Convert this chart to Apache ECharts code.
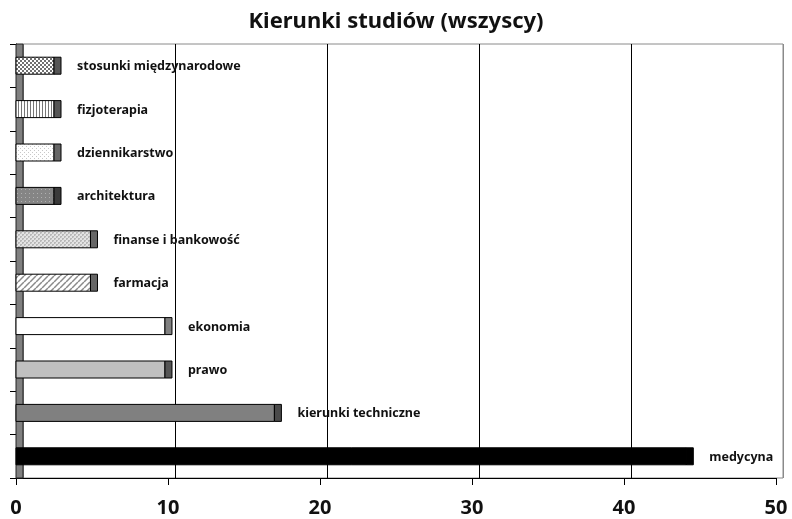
<!DOCTYPE html>
<html>
<head>
<meta charset="utf-8">
<title>Kierunki studiów (wszyscy)</title>
<script src="https://cdn.jsdelivr.net/npm/echarts@6/dist/echarts.min.js"></script>
<style>
body { margin: 0; background: #fff; }
#chart { width: 792px; height: 519px; }
</style>
</head>
<body>
<div id="chart"></div>
<script>
// data, bottom to top
var categories = ['medycyna', 'kierunki techniczne', 'prawo', 'ekonomia', 'farmacja',
	'finanse i bankowość', 'architektura', 'dziennikarstwo', 'fizjoterapia', 'stosunki międzynarodowe'];
var values = [44.1, 17.0, 9.8, 9.8, 4.9, 4.9, 2.5, 2.5, 2.5, 2.5];
var xMin = 0, xMax = 50, xStep = 10;

// looks, same order as categories
var fills = ['solid:#000000', 'solid:#808080', 'solid:#c0c0c0', 'solid:#ffffff', 'diag',
	'lightdots', 'graydots', 'sparsedots', 'vstripes', 'checker'];
var capColors = ['#000000', '#4a4a4a', '#555555', '#808080', '#666666',
	'#666666', '#3a3a3a', '#666666', '#555555', '#555555'];

var FONT = '"Noto Sans", "DejaVu Sans", sans-serif';
var DEPTH = 7;

function pattern(kind)
{
	if (kind.indexOf('solid:') == 0)
		return kind.substr(6);
	var c = document.createElement('canvas');
	var g = c.getContext('2d');
	if (kind == 'checker') {
		c.width = 4; c.height = 4;
		g.fillStyle = '#ffffff'; g.fillRect(0, 0, 4, 4);
		g.fillStyle = '#707070'; g.fillRect(0, 0, 2, 2); g.fillRect(2, 2, 2, 2);
	} else if (kind == 'vstripes') {
		c.width = 3; c.height = 3;
		g.fillStyle = '#ffffff'; g.fillRect(0, 0, 3, 3);
		g.fillStyle = '#777777'; g.fillRect(0, 0, 1, 3);
	} else if (kind == 'sparsedots') {
		c.width = 4; c.height = 4;
		g.fillStyle = '#ffffff'; g.fillRect(0, 0, 4, 4);
		g.fillStyle = '#c8c8c8'; g.fillRect(0, 0, 1, 1); g.fillRect(2, 2, 1, 1);
	} else if (kind == 'graydots') {
		c.width = 4; c.height = 4;
		g.fillStyle = '#858585'; g.fillRect(0, 0, 4, 4);
		g.fillStyle = '#b0b0b0'; g.fillRect(1, 1, 1, 1);
	} else if (kind == 'lightdots') {
		c.width = 4; c.height = 4;
		g.fillStyle = '#e4e4e4'; g.fillRect(0, 0, 4, 4);
		g.fillStyle = '#b8b8b8'; g.fillRect(0, 0, 2, 2); g.fillRect(2, 2, 2, 2);
		g.fillStyle = '#d0d0d0'; g.fillRect(1, 1, 1, 1); g.fillRect(3, 3, 1, 1);
	} else if (kind == 'diag') {
		c.width = 6; c.height = 6;
		g.fillStyle = '#ffffff'; g.fillRect(0, 0, 6, 6);
		g.strokeStyle = '#8a8a8a'; g.lineWidth = 1.5;
		for (var k = -6; k <= 6; k += 6) {
			g.beginPath(); g.moveTo(k, 6); g.lineTo(k + 6, 0); g.stroke();
		}
	}
	return { image: c, repeat: 'repeat' };
}

var fillObjs = fills.map(pattern);

var data = [];
for (var i = 0; i < values.length; ++i)
	data.push([values[i], i]);

function renderBar(params, api)
{
	var idx = api.value(1);
	var start = api.coord([xMin, idx]);
	var end = api.coord([api.value(0), idx]);
	var h = 17;
	var top = end[1] - h / 2;
	return {
		type: 'group',
		children: [
			{
				type: 'rect',
				shape: { x: start[0], y: top, width: end[0] - start[0], height: h },
				style: { fill: fillObjs[idx], stroke: '#000', lineWidth: 1 }
			},
			{
				type: 'rect',
				shape: { x: end[0], y: top, width: DEPTH, height: h },
				style: { fill: capColors[idx], stroke: '#000', lineWidth: 1 }
			},
			{
				type: 'text',
				style: {
					text: categories[idx],
					x: end[0] + DEPTH + 16,
					y: end[1] + 1,
					verticalAlign: 'middle',
					fill: '#111',
					font: 'bold 12.5px ' + FONT
				}
			}
		]
	};
}

var chart = echarts.init(document.getElementById('chart'));

chart.setOption({
	animation: false,
	backgroundColor: '#fff',
	title: {
		text: 'Kierunki studiów (wszyscy)',
		left: 'center',
		top: 6,
		textStyle: { fontFamily: FONT, fontWeight: 'bold', fontSize: 22, color: '#111' }
	},
	grid: [
		{ left: 16, width: 760, top: 44, bottom: 41, outerBoundsMode: 'none' },
		{ left: 16 + DEPTH, width: 760, top: 44, bottom: 41, outerBoundsMode: 'none', show: true,
			borderColor: '#8a8a8a', borderWidth: 1, backgroundColor: 'transparent' }
	],
	xAxis: [
		{
			gridIndex: 0, type: 'value', min: xMin, max: xMax, interval: xStep,
			axisLine: { show: true, lineStyle: { color: '#000', width: 1 } },
			axisTick: { show: true, length: 7, lineStyle: { color: '#000' } },
			axisLabel: { margin: 20, fontFamily: FONT, fontWeight: 'bold', fontSize: 20, color: '#111' },
			splitLine: { show: false }
		},
		{
			gridIndex: 1, type: 'value', min: xMin, max: xMax, interval: xStep,
			axisLine: { show: false }, axisTick: { show: false }, axisLabel: { show: false },
			splitLine: { show: true, lineStyle: { color: ['#8a8a8a', '#000', '#000', '#000', '#000', '#8a8a8a'], width: 1 } }
		}
	],
	yAxis: [
		{
			gridIndex: 0, type: 'category', data: categories,
			axisLine: { show: true, lineStyle: { color: '#000' } },
			axisTick: { show: true, length: 6, lineStyle: { color: '#000' } },
			axisLabel: { show: false },
			splitLine: { show: false }
		},
		{
			gridIndex: 1, type: 'category', data: categories, show: false
		}
	],
	graphic: [
		{
			type: 'rect', z: 1,
			shape: { x: 16, y: 44, width: DEPTH, height: 434 },
			style: { fill: '#808080', stroke: '#222', lineWidth: 1 }
		}
	],
	series: [
		{
			type: 'custom',
			xAxisIndex: 0, yAxisIndex: 0,
			z: 3,
			renderItem: renderBar,
			encode: { x: 0, y: 1 },
			data: data
		}
	]
});
</script>
</body>
</html>
